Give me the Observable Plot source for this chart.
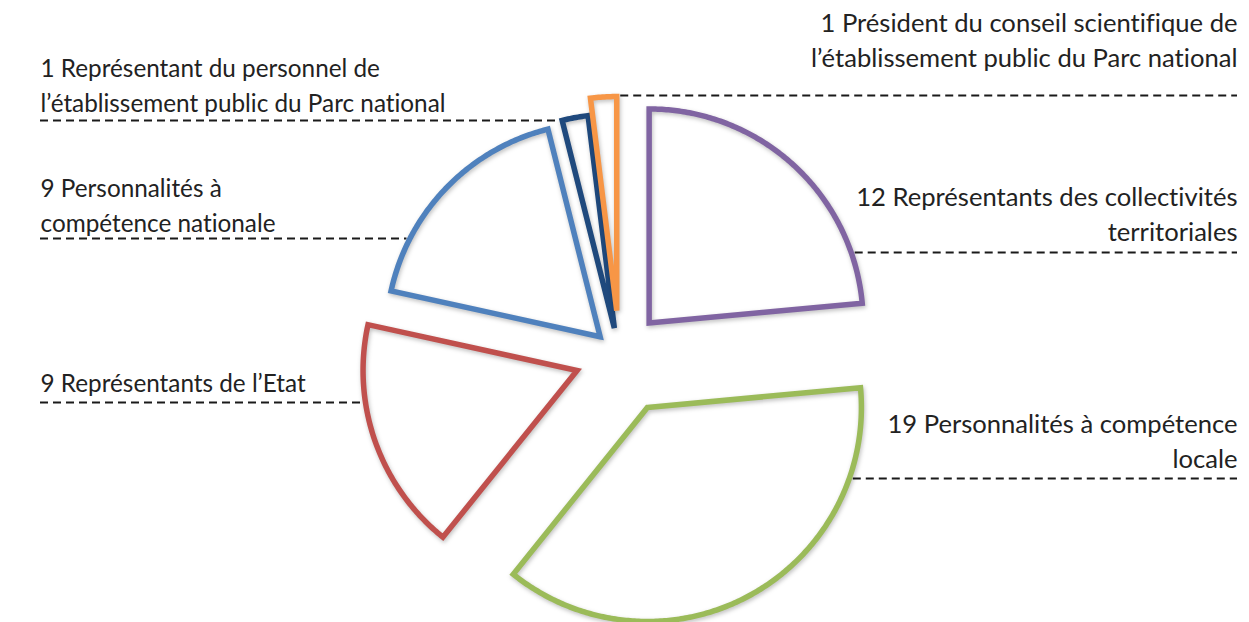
<!DOCTYPE html>
<html><head><meta charset="utf-8">
<script src="https://cdn.jsdelivr.net/npm/d3@7"></script>
<script src="https://cdn.jsdelivr.net/npm/@observablehq/plot@0.6"></script>
<style>html,body{margin:0;padding:0;background:#fff;overflow:hidden}
svg text{font-variant-ligatures:none;font-feature-settings:"liga" 0,"clig" 0}</style>
</head><body><div id="chart"></div>
<script>
// ---- data ----
const categories = [
  "Représentants des collectivités territoriales",
  "Personnalités à compétence locale",
  "Représentants de l’Etat",
  "Personnalités à compétence nationale",
  "Représentant du personnel de l’établissement public du Parc national",
  "Président du conseil scientifique de l’établissement public du Parc national"
];
const values = [12, 19, 9, 9, 1, 1];
const labelLines = [
  ["12 Représentants des collectivités", "territoriales"],
  ["19 Personnalités à compétence", "locale"],
  ["9 Représentants de l’Etat"],
  ["9 Personnalités à", "compétence nationale"],
  ["1 Représentant du personnel de", "l’établissement public du Parc national"],
  ["1 Président du conseil scientifique de", "l’établissement public du Parc national"]
];
const colors = ["#8064A2", "#9BBB59", "#C0504D", "#4F81BD", "#1F497D", "#F79646"];

// ---- layout ----
const W = 1249, H = 622, cx = 619, cy = 355, R = 214;
const explode = [44, 59, 45, 27, 28, 45];
const labelSide = ["right", "right", "left", "left", "left", "right"];
const labelY = [197, 424, 384, 189, 69, 23];   // first text line (middle)
const ruleY = [252, 478, 402, 238, 120, 95];
const lineGap = 35, leftX = 40, rightX = 1237;

const total = d3.sum(values);
let acc = 0;
const slicePts = [], apex = [];
values.forEach((v, i) => {
  const a0 = acc / total * 2 * Math.PI, a1 = (acc + v) / total * 2 * Math.PI;
  acc += v;
  const mid = (a0 + a1) / 2;
  const ax = cx + explode[i] * Math.sin(mid), ay = cy - explode[i] * Math.cos(mid);
  apex.push([ax, ay]);
  slicePts.push({x: ax, y: ay, k: categories[i]});
  const n = Math.max(4, Math.ceil((a1 - a0) / 0.01));
  for (let j = 0; j <= n; j++) {
    const a = a0 + (a1 - a0) * j / n;
    slicePts.push({x: ax + R * Math.sin(a), y: ay - R * Math.cos(a), k: categories[i]});
  }
});

const rules = values.map((v, i) => {
  const [ax, ay] = apex[i];
  const dy = ruleY[i] - ay;
  const h = Math.sqrt(Math.max(0, R * R - dy * dy));
  if (labelSide[i] === "right") return {y: ruleY[i], x1: ax + h + 4, x2: rightX};
  return {y: ruleY[i], x1: leftX, x2: ax - h - 3};
});

const textRows = [];
labelLines.forEach((lines, i) => lines.forEach((t, j) => textRows.push({
  t, side: labelSide[i], x: labelSide[i] === "right" ? rightX : leftX, y: labelY[i] + j * lineGap
})));

const font = "Lato, 'Open Sans', sans-serif";
const chart = Plot.plot({
  width: W, height: H, margin: 0,
  x: {domain: [0, W], range: [0, W], axis: null},
  y: {domain: [0, H], range: [0, H], axis: null},
  color: {domain: categories, range: colors},
  marks: [
    Plot.ruleY(rules, {y: "y", x1: "x1", x2: "x2", stroke: "#1a1a1a", strokeWidth: 2.2, strokeDasharray: "8,5"}),
    Plot.line(slicePts, {x: "x", y: "y", z: "k", stroke: "k", curve: "linear-closed",
      strokeWidth: 5.5, strokeLinejoin: "miter", strokeMiterlimit: 10}),
    Plot.text(textRows.filter(d => d.side === "left"), {x: "x", y: "y", text: "t", textAnchor: "start",
      fontSize: 24.3, fontFamily: font, fill: "#222"}),
    Plot.text(textRows.filter(d => d.side === "right"), {x: "x", y: "y", text: "t", textAnchor: "end",
      fontSize: 25.6, fontFamily: font, fill: "#222"})
  ]
});
document.getElementById("chart").appendChild(chart);
d3.select(chart).selectAll("g[aria-label=line] path").style("filter", "drop-shadow(1px 2px 2px rgba(0,0,0,0.25))");
</script>
</body></html>
